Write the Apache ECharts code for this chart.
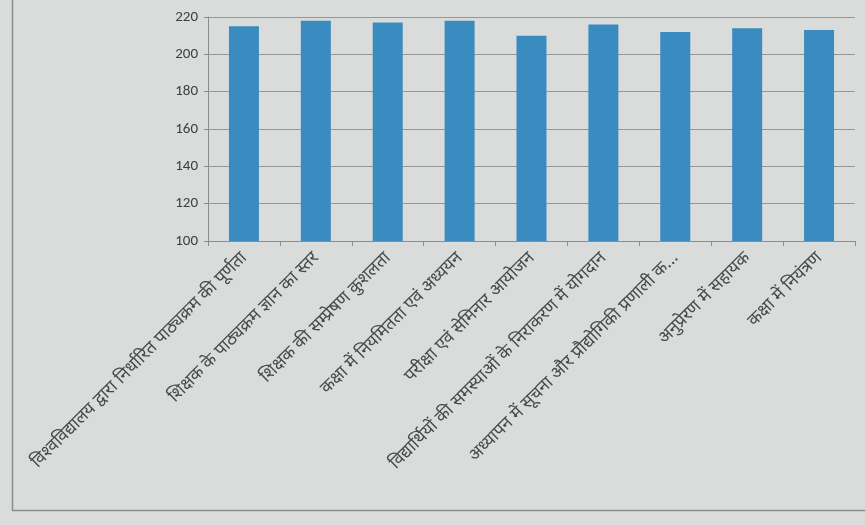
<!DOCTYPE html>
<html><head><meta charset="utf-8">
<script src="https://cdn.jsdelivr.net/npm/echarts@6/dist/echarts.min.js"></script>
<style>html,body{margin:0;padding:0;background:#d9dcdb}#c{width:865px;height:525px}</style>
</head><body><div id="c"></div>
<script>
const categories = [
  'विश्वविद्यालय द्वारा निर्धारित पाठ्यक्रम की पूर्णता',
  'शिक्षक के पाठ्यक्रम ज्ञान का स्तर',
  'शिक्षक की सम्प्रेषण कुशलता',
  'कक्षा में नियमितता एवं अध्ययन',
  'परीक्षा एवं सेमिनार आयोजन',
  'विद्यार्थियों की समस्याओं के निराकरण में योगदान',
  'अध्यापन में सूचना और प्रौद्योगिकी प्रणाली क...',
  'अनुप्रेरण में सहायक',
  'कक्षा में नियंत्रण'
];
const values = [215, 218, 217, 218, 210, 216, 212, 214, 213];
const yTicks = [100, 120, 140, 160, 180, 200, 220];

const chart = echarts.init(document.getElementById('c'));
chart.setOption({
  backgroundColor: '#d9dcdb',
  animation: false,
  graphic: [{
    type: 'rect', left: 10, top: -5, shape: {width: 860, height: 513},
    style: {fill: 'none', stroke: '#8a8d8c', lineWidth: 1.5}, silent: true
  }],
  grid: {left: 208, right: 10, top: 17, height: 224},
  xAxis: {
    type: 'category', data: categories,
    axisLine: {lineStyle: {color: '#8a8d8c'}},
    axisTick: {show: true, alignWithLabel: false, lineStyle: {color: '#8a8d8c'}},
    axisLabel: {rotate: 45, interval: 0, color: '#474949', fontSize: 17.5, margin: 14,
      fontFamily: '"Noto Sans", "Noto Sans Devanagari", sans-serif'}
  },
  yAxis: {
    type: 'value', min: yTicks[0], max: yTicks[yTicks.length - 1], interval: 20,
    axisLine: {show: true, lineStyle: {color: '#8a8d8c'}},
    axisTick: {show: true, length: 4, lineStyle: {color: '#8a8d8c'}},
    axisLabel: {color: '#3d3f3f', fontSize: 15, margin: 10, fontFamily: 'Calibri, Carlito, "Liberation Sans", sans-serif'},
    splitLine: {lineStyle: {color: '#949796', width: 1}}
  },
  series: [{
    type: 'bar', data: values, barWidth: 30,
    itemStyle: {color: '#3a8bbf'}
  }]
});
</script></body></html>
